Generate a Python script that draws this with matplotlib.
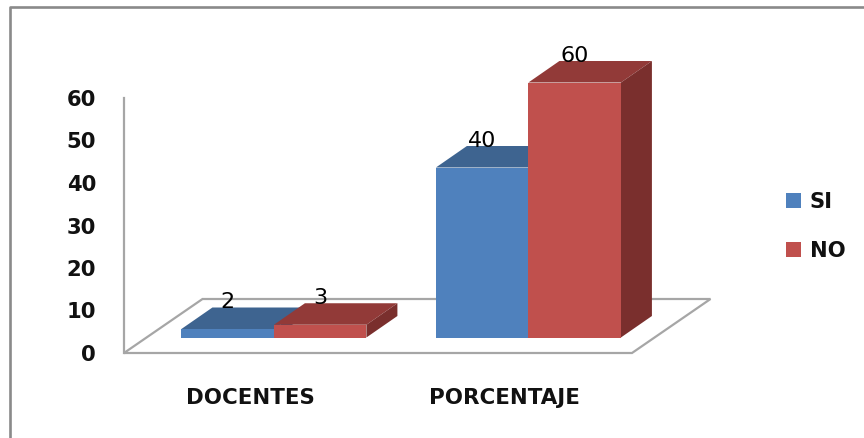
import matplotlib.pyplot as plt
from matplotlib.lines import Line2D
from matplotlib.patches import Polygon
import numpy as np

categories = ["DOCENTES", "PORCENTAJE"]
si_values = [2, 40]
no_values = [3, 60]
series_names = ["SI", "NO"]
y_ticks = [0, 10, 20, 30, 40, 50, 60]

W, H = 864, 438
plt.rcParams['font.family'] = ['DejaVu Sans']

fig = plt.figure(figsize=(W / 100, H / 100), dpi=100, facecolor='white')

# eje principal: 0 en y=353 px, 60 en y=98 px
ax = fig.add_axes([124 / W, (H - 353) / H, 508 / W, 255 / H])
ax.set_xlim(-0.589, 1.407)
ax.set_ylim(0, 60)
ax.patch.set_visible(False)

px_x = 508 / (1.407 + 0.589)
px_y = 255 / 60

# profundidad falsa del 3D, en unidades de datos
bar_w = 92.5 / px_x
base = 15.5 / px_y
dx = 31 / px_x
dy = 21.5 / px_y
floor_dx = 78.5 / px_x
floor_dy = 54 / px_y

# piso
x0, x1 = ax.get_xlim()
ax.add_patch(Polygon([(x0, 0), (x1, 0), (x1 + floor_dx, floor_dy), (x0 + floor_dx, floor_dy)],
                     closed=True, fc='white', ec='#a6a6a6', lw=1.6, clip_on=False, zorder=1))

x = np.arange(len(categories))


def draw_series(xs, values, face, top, side, label, z):
    bars = ax.bar(xs, values, bar_w, bottom=base, color=face, label=label,
                  align='edge', zorder=z + 0.5, clip_on=False)
    for left, val in zip(xs, values):
        y_top = base + val
        right = left + bar_w
        ax.add_patch(Polygon([(left, y_top), (right, y_top), (right + dx, y_top + dy), (left + dx, y_top + dy)],
                             closed=True, fc=top, ec='none', clip_on=False, zorder=z))
        ax.add_patch(Polygon([(right, base), (right + dx, base + dy), (right + dx, y_top + dy), (right, y_top)],
                             closed=True, fc=side, ec='none', clip_on=False, zorder=z))
        ax.annotate(str(val), (left + bar_w / 2, y_top), xytext=(0, 19.4),
                    textcoords='offset points', ha='center', va='center',
                    fontsize=16, color='black', zorder=10, annotation_clip=False)
    return bars


draw_series(x - bar_w, si_values, '#4f81bd', '#3e6490', '#375a84', series_names[0], 3)
draw_series(x, no_values, '#c0504d', '#923a38', '#7a2f2d', series_names[1], 4)

# ejes
for s in ['top', 'right', 'bottom']:
    ax.spines[s].set_visible(False)
ax.spines['left'].set_color('#a6a6a6')
ax.spines['left'].set_linewidth(1.6)
ax.set_yticks(y_ticks)
ax.tick_params(axis='y', length=0, pad=20, labelsize=15.2)
for t in ax.get_yticklabels():
    t.set_fontweight('bold')
    t.set_color('#111111')

ax.set_xticks(x - 0.094)
ax.set_xticklabels(categories, fontsize=15.4, fontweight='bold', color='#111111')
ax.tick_params(axis='x', length=0, pad=25)

# leyenda
leg = fig.legend(loc='center left', bbox_to_anchor=(786 / W, (H - 226.5) / H), frameon=False,
                 prop={'size': 15.2, 'weight': 'bold'}, handlelength=0.71, handleheight=0.71,
                 labelspacing=1.35, handletextpad=0.42, borderpad=0, borderaxespad=0)
for text in leg.get_texts():
    text.set_color('#111111')

# marco del grafico (solo se ve arriba e izquierda)
fig.add_artist(Line2D([10 / W, 10 / W, 1], [0, (H - 7) / H, (H - 7) / H],
                      color='#8a8a8a', lw=1.9, transform=fig.transFigure))

fig.savefig("out.png", dpi=100)
